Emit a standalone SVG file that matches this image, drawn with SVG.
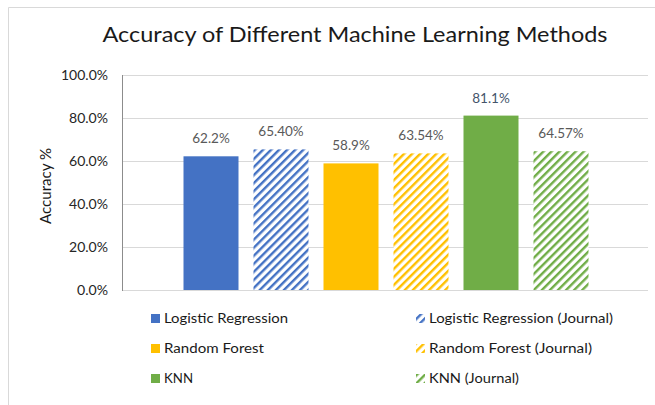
<svg xmlns="http://www.w3.org/2000/svg" width="655" height="405" viewBox="0 0 655 405">
  <style>
    .title { font-family: Lato, "Liberation Sans", sans-serif; font-size: 22px; fill: #1a1a1a; }
    .tick { font-family: Lato, "Liberation Sans", sans-serif; font-size: 13.5px; fill: #262626; text-anchor: end; }
    .axis-title { font-family: Lato, "Liberation Sans", sans-serif; font-size: 15px; fill: #1a1a1a; }
    .val { font-family: Lato, "Liberation Sans", sans-serif; font-size: 13.5px; fill: #595959; text-anchor: middle; }
    .val-hi { fill: #44546A; }
    .leg { font-family: Lato, "Liberation Sans", sans-serif; font-size: 13.5px; fill: #1a1a1a; }
    .grid { stroke: #d9d9d9; stroke-width: 1; }
  </style>
  <defs>
    <pattern id="hatch-blue" patternUnits="userSpaceOnUse" width="5.7" height="5.7" patternTransform="rotate(45)">
      <rect width="5.7" height="5.7" fill="#ffffff"/>
      <rect x="0" y="0" width="2.4" height="5.7" fill="#4472C4"/>
    </pattern>
    <pattern id="hatch-yellow" patternUnits="userSpaceOnUse" width="5.7" height="5.7" patternTransform="rotate(45)">
      <rect width="5.7" height="5.7" fill="#ffffff"/>
      <rect x="0" y="0" width="2.4" height="5.7" fill="#FFC000"/>
    </pattern>
    <pattern id="hatch-green" patternUnits="userSpaceOnUse" width="5.7" height="5.7" patternTransform="rotate(45)">
      <rect width="5.7" height="5.7" fill="#ffffff"/>
      <rect x="0" y="0" width="2.4" height="5.7" fill="#70AD47"/>
    </pattern>
  </defs>

  <!-- background and chart frame -->
  <rect width="655" height="405" fill="#ffffff"/>
  <path d="M8.5 405 V7.5 H655" fill="none" stroke="#d9d9d9" stroke-width="1"/>

  <!-- title -->
  <text class="title" x="355" y="42" text-anchor="middle" textLength="505" lengthAdjust="spacingAndGlyphs">Accuracy of Different Machine Learning Methods</text>

  <!-- gridlines and value axis line -->
  <g id="grid">
    <line class="grid" x1="122" y1="75.5" x2="648" y2="75.5"/>
    <line class="grid" x1="122" y1="118.5" x2="648" y2="118.5"/>
    <line class="grid" x1="122" y1="161.5" x2="648" y2="161.5"/>
    <line class="grid" x1="122" y1="204.5" x2="648" y2="204.5"/>
    <line class="grid" x1="122" y1="247.5" x2="648" y2="247.5"/>
    <line class="grid" x1="122" y1="290.5" x2="648" y2="290.5"/>
    <line x1="122.5" y1="75" x2="122.5" y2="291" stroke="#8c8c8c" stroke-width="1"/>
  </g>

  <!-- y axis -->
  <g id="y-axis">
    <text class="tick" x="108" y="80" textLength="47" lengthAdjust="spacingAndGlyphs">100.0%</text>
    <text class="tick" x="108" y="123" textLength="39" lengthAdjust="spacingAndGlyphs">80.0%</text>
    <text class="tick" x="108" y="166" textLength="39" lengthAdjust="spacingAndGlyphs">60.0%</text>
    <text class="tick" x="108" y="209" textLength="39" lengthAdjust="spacingAndGlyphs">40.0%</text>
    <text class="tick" x="108" y="252" textLength="39" lengthAdjust="spacingAndGlyphs">20.0%</text>
    <text class="tick" x="108" y="295" textLength="31" lengthAdjust="spacingAndGlyphs">0.0%</text>
    <text class="axis-title" transform="translate(51 186) rotate(-90)" text-anchor="middle" textLength="76" lengthAdjust="spacingAndGlyphs">Accuracy %</text>
  </g>

  <!-- bars -->
  <g id="bar-lr">
    <rect x="183.5" y="156.3" width="55" height="133.7" fill="#4472C4"/>
    <text class="val" x="211" y="143">62.2%</text>
  </g>
  <g id="bar-lr-journal">
    <rect x="253.5" y="149.4" width="55" height="140.6" fill="url(#hatch-blue)"/>
    <text class="val" x="281" y="136">65.40%</text>
  </g>
  <g id="bar-rf">
    <rect x="323.5" y="163.4" width="55" height="126.6" fill="#FFC000"/>
    <text class="val" x="351" y="150">58.9%</text>
  </g>
  <g id="bar-rf-journal">
    <rect x="393.5" y="153.4" width="55" height="136.6" fill="url(#hatch-yellow)"/>
    <text class="val" x="421" y="140">63.54%</text>
  </g>
  <g id="bar-knn">
    <rect x="463.5" y="115.6" width="55" height="174.4" fill="#70AD47"/>
    <text class="val val-hi" x="491" y="102.5">81.1%</text>
  </g>
  <g id="bar-knn-journal">
    <rect x="533.5" y="151.2" width="55" height="138.8" fill="url(#hatch-green)"/>
    <text class="val" x="561" y="138">64.57%</text>
  </g>

  <!-- legend -->
  <g id="legend">
    <rect x="151" y="314" width="9" height="9" fill="#4472C4"/>
    <text class="leg" x="164" y="323" textLength="124" lengthAdjust="spacingAndGlyphs">Logistic Regression</text>
    <rect x="151" y="344" width="9" height="9" fill="#FFC000"/>
    <text class="leg" x="164" y="353" textLength="100" lengthAdjust="spacingAndGlyphs">Random Forest</text>
    <rect x="151" y="374" width="9" height="9" fill="#70AD47"/>
    <text class="leg" x="164" y="383" textLength="29" lengthAdjust="spacingAndGlyphs">KNN</text>

    <rect x="416" y="314" width="9" height="9" fill="url(#hatch-blue)"/>
    <text class="leg" x="429" y="323" textLength="184" lengthAdjust="spacingAndGlyphs">Logistic Regression (Journal)</text>
    <rect x="416" y="344" width="9" height="9" fill="url(#hatch-yellow)"/>
    <text class="leg" x="429" y="353" textLength="163" lengthAdjust="spacingAndGlyphs">Random Forest (Journal)</text>
    <rect x="416" y="374" width="9" height="9" fill="url(#hatch-green)"/>
    <text class="leg" x="429" y="383" textLength="90" lengthAdjust="spacingAndGlyphs">KNN (Journal)</text>
  </g>
</svg>
